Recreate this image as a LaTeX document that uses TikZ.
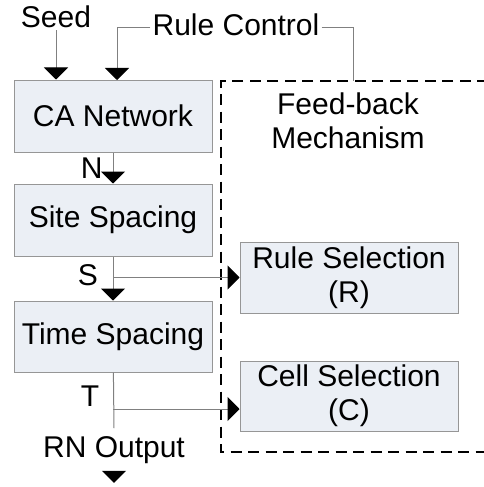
\documentclass[tikz,border=0pt]{standalone}
\usepackage{fontspec}
\setmainfont{Liberation Sans}
\usetikzlibrary{arrows.meta}

\definecolor{boxfill}{RGB}{235,239,245}
\definecolor{boxline}{RGB}{150,150,150}
\definecolor{wirecol}{RGB}{128,128,128}

\tikzset{
  blk/.style={draw=boxline, line width=1pt, fill=boxfill, minimum width=198pt,
    minimum height=72pt, inner sep=0pt, align=center},
  wire/.style={draw=wirecol, line width=1pt},
  lbl/.style={inner sep=2pt, align=center},
}

\begin{document}
\begin{tikzpicture}[x=1pt,y=-1pt,>={Triangle[width=24pt,length=12pt,color=black,fill=black]},
  font=\fontsize{30}{34}\selectfont]
	\useasboundingbox (0,0) rectangle (484,487);
	%blocos
	\node[blk] (ca) at (113,116) {CA Network};
	\node[blk] (site) at (113,220) {Site Spacing};
	\node[blk, minimum height=71pt] (time) at (113,336.5) {Time Spacing};
	\node[blk, minimum width=218pt, minimum height=71pt] (rule) at (349,277.5) {Rule Selection\\(R)};
	\node[blk, minimum width=218pt, minimum height=70pt] (cell) at (349,396) {Cell Selection\\(C)};
	%mecanismo de realimentacao
	\draw[black, line width=2.2pt, dash pattern=on 11pt off 6.5pt] (488,81) -| (221,452) -- (488,452);
	\coordinate (fbtop) at (353,81);
	\node[lbl] (fb) at (348,121) {Feed-back\\Mechanism};
	%entradas
	\node[lbl] (seed) at (56,17) {Seed};
	\node[lbl] (ctrl) at (236,25) {Rule Control};
	\coordinate (caIn) at (117,80);
	\draw[wire,->] (seed.south) -- (seed.south |- ca.north);
	\draw[wire,->] ([yshift=-3pt]ctrl.west) -| (caIn);
	\draw[wire] ([yshift=-3pt]ctrl.east) -| (fbtop);
	%fluxo
	\draw[wire,->] (ca) -- node[lbl, left=8pt] {N} (site);
	\draw[wire,->] (site) -- (time);
	\node[lbl] (s) at (88,275) {S};
	\draw[wire,->] (site.south |- rule.west) -- (rule.west);
	\node[lbl] (t) at (90,396) {T};
	\node[lbl] (out) at (114,450) {RN Output};
	\draw[wire] (time) -- ([yshift=6pt]out.north);
	\coordinate (cin) at ([yshift=-13pt]cell.west);
	\draw[wire,->] (time.south |- cin) -- (cin);
	\draw[wire,->] ([yshift=-5pt]out.south) -- ++(0,12);
\end{tikzpicture}
\end{document}
